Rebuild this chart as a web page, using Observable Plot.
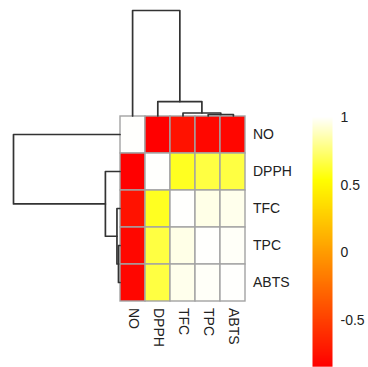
<!DOCTYPE html>
<html><head><meta charset="utf-8">
<script src="https://cdn.jsdelivr.net/npm/d3@7"></script>
<script src="https://cdn.jsdelivr.net/npm/@observablehq/plot@0.6"></script>
<style>
body{margin:0;background:#fff;}
#chart{position:relative;width:368px;height:367px;overflow:hidden;background:#fff;}
#chart svg{position:absolute;left:0;top:0;overflow:visible;}
</style></head><body><div id="chart"></div>
<script>
// ---- data ----
const variables = ["NO", "DPPH", "TFC", "TPC", "ABTS"];
const corNO   = [1.00, -0.84, -0.74, -0.80, -0.81];
const corDPPH = [-0.84, 1.00, 0.60, 0.66, 0.66];
const corTFC  = [-0.74, 0.60, 1.00, 0.96, 0.97];
const corTPC  = [-0.80, 0.66, 0.96, 1.00, 0.99];
const corABTS = [-0.81, 0.66, 0.97, 0.99, 1.00];
const legendTicks = [1, 0.5, 0, -0.5];
// hierarchical clustering (same for rows and columns): merge i joins A and B at height
const mergeA = ["TPC", "TFC", "DPPH", "NO"];
const mergeB = ["ABTS", "#1", "#2", "#3"];
const mergeHeight = [0.1, 0.2, 0.96, 7.0];

// ---- derived ----
const matrix = [corNO, corDPPH, corTFC, corTPC, corABTS];
const cells = [];
matrix.forEach((row, i) => row.forEach((v, j) => cells.push({row: variables[i], col: variables[j], value: v})));
const vmin = d3.min(cells, d => d.value), vmax = d3.max(cells, d => d.value);
const color = {type: "linear", domain: [vmin, vmin + 0.75 * (vmax - vmin), vmax],
  range: ["#ff0000", "#ffff00", "#fffffd"], interpolate: "rgb"};

// dendrogram paths
const nodes = {};
variables.forEach((v, i) => nodes[v] = {pos: i, h: 0});
const dendro = [];
mergeA.forEach((a, i) => {
  const A = nodes[a], B = nodes[mergeB[i]], h = mergeHeight[i];
  nodes["#" + (i + 1)] = {pos: (A.pos + B.pos) / 2, h};
  dendro.push({k: i, p: A.pos, h: A.h}, {k: i, p: A.pos, h}, {k: i, p: B.pos, h}, {k: i, p: B.pos, h: B.h});
});

const W = 368, H = 367;
const font = '"Liberation Sans", Arial, sans-serif';
const baseStyle = {background: "none", fontFamily: font, fontSize: "14px", color: "#222", overflow: "visible"};
const chart = document.getElementById("chart");

// heatmap
chart.append(Plot.plot({
  width: W, height: H,
  marginLeft: 119.5, marginRight: 122.5, marginTop: 115.5, marginBottom: 66.5,
  style: baseStyle,
  x: {domain: variables, padding: 0, axis: "bottom", tickSize: 0, tickPadding: 7, tickRotate: 90, label: null},
  y: {domain: variables, padding: 0, axis: "right", tickSize: 0, tickPadding: 7, label: null},
  color,
  marks: [
    Plot.cell(cells, {x: "col", y: "row", fill: "value", stroke: "#a3a3a3", strokeWidth: 1.4})
  ]
}));

// top dendrogram
chart.append(Plot.plot({
  width: W, height: H,
  marginLeft: 119.5, marginRight: 122.5, marginTop: 10, marginBottom: H - 115.5,
  style: baseStyle,
  x: {domain: [-0.5, variables.length - 0.5], axis: null},
  y: {domain: [0, d3.max(mergeHeight)], axis: null},
  marks: [
    Plot.line(dendro, {x: "p", y: "h", z: "k", stroke: "#333", strokeWidth: 1.7})
  ]
}));

// left dendrogram
chart.append(Plot.plot({
  width: W, height: H,
  marginLeft: 13, marginRight: W - 119.5, marginTop: 115.5, marginBottom: 66.5,
  style: baseStyle,
  y: {domain: [-0.5, variables.length - 0.5], reverse: true, axis: null},
  x: {domain: [d3.max(mergeHeight), 0], axis: null},
  marks: [
    Plot.line(dendro, {x: "h", y: "p", z: "k", stroke: "#333", strokeWidth: 1.7})
  ]
}));

// colour legend
chart.append(Plot.plot({
  width: W, height: H,
  marginLeft: 312, marginRight: W - 332, marginTop: 117, marginBottom: 0.8,
  style: baseStyle,
  x: {domain: [0, 1], axis: null},
  y: {domain: [vmin, vmax], axis: "right", ticks: legendTicks, tickFormat: d => String(d), tickSize: 0, tickPadding: 8, label: null},
  color,
  marks: [
    Plot.raster({x1: 0, x2: 1, y1: vmin, y2: vmax, width: 1, height: 256, fill: (x, y) => y})
  ]
}));
</script>
</body></html>
